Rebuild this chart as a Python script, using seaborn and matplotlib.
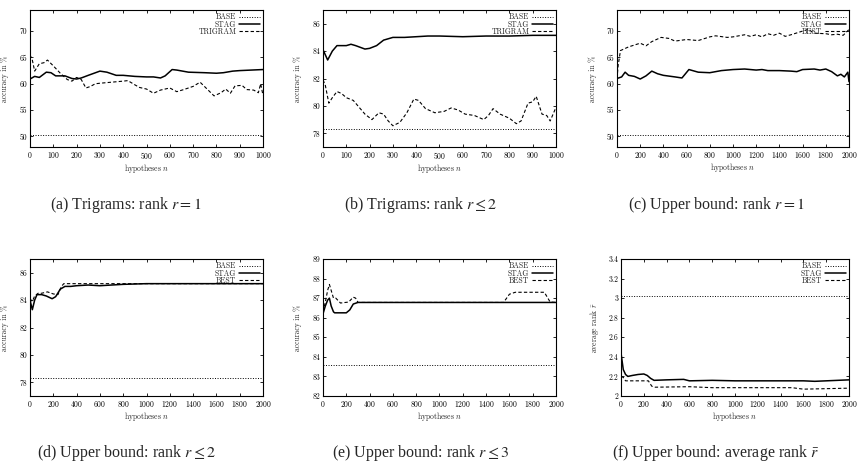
import matplotlib
matplotlib.use("Agg")
import matplotlib.pyplot as plt
from matplotlib.ticker import MultipleLocator, FuncFormatter
import seaborn as sns

# ---- data ----
# (a) trigrams, rank r = 1
a_stag_n = [0, 20, 40, 70, 90, 110, 150, 180, 200, 220, 250, 300, 330, 370, 400, 450, 500, 530, 560, 580,
            610, 630, 680, 750, 800, 830, 870, 900, 950, 1000]
a_stag = [60.9, 61.4, 61.2, 62.2, 62.1, 61.5, 61.5, 61.0, 60.9, 61.1, 61.6, 62.4, 62.2, 61.6, 61.6, 61.4, 61.3,
          61.3, 61.1, 61.5, 62.7, 62.6, 62.2, 62.1, 62.0, 62.1, 62.4, 62.5, 62.6, 62.7]
a_tri_n = [0, 10, 20, 40, 60, 75, 100, 130, 160, 180, 200, 220, 240, 260, 280, 300, 350, 400, 420, 450,
           470, 500, 530, 560, 600, 630, 660, 700, 730, 760, 790, 820, 840, 860, 880, 910, 930, 960, 980, 990, 1000]
a_tri = [65.5, 64.5, 62.4, 63.8, 64.0, 64.5, 63.4, 62.0, 60.8, 60.5, 61.2, 60.8, 59.2, 59.5, 60.0, 60.1, 60.3,
         60.5, 60.6, 59.8, 59.3, 59.0, 58.2, 58.8, 59.2, 58.5, 58.9, 59.5, 60.3, 59.0, 57.7, 58.3, 59.0, 58.2,
         59.6, 59.7, 58.9, 58.8, 58.3, 60.0, 57.8]
a_base = 50.2

# (b) trigrams, rank r <= 2
b_stag_n = [0, 20, 40, 60, 80, 100, 120, 140, 180, 200, 230, 260, 280, 300, 350, 400, 450, 500, 600, 700,
            800, 900, 1000]
b_stag = [84.1, 83.35, 84.0, 84.4, 84.4, 84.4, 84.5, 84.4, 84.15, 84.2, 84.4, 84.8, 84.9, 85.0, 85.0, 85.05,
          85.1, 85.1, 85.05, 85.1, 85.1, 85.15, 85.15]
b_tri_n = [0, 10, 25, 40, 60, 80, 100, 130, 150, 180, 210, 240, 260, 280, 300, 330, 360, 390, 410, 440,
           480, 520, 550, 580, 610, 650, 690, 710, 730, 760, 800, 830, 850, 880, 900, 915, 940, 960, 975, 1000]
b_tri = [81.9, 81.5, 80.2, 80.6, 81.05, 80.9, 80.6, 80.4, 80.0, 79.4, 79.0, 79.5, 79.4, 78.9, 78.55, 78.8,
         79.5, 80.5, 80.4, 79.8, 79.5, 79.6, 79.85, 79.7, 79.4, 79.3, 79.0, 79.3, 79.8, 79.4, 79.1, 78.7, 78.9,
         80.2, 80.3, 80.7, 79.4, 79.3, 78.9, 79.9]
b_base = 78.3

# (c) upper bound, rank r = 1
c_stag_n = [0, 40, 70, 100, 150, 200, 250, 300, 350, 400, 500, 560, 620, 700, 800, 900, 1000, 1100, 1200,
            1250, 1300, 1400, 1500, 1550, 1600, 1700, 1750, 1800, 1850, 1900, 1930, 1960, 1990, 2000]
c_stag = [61.0, 61.3, 62.2, 61.6, 61.4, 60.9, 61.5, 62.4, 61.9, 61.6, 61.3, 61.1, 62.7, 62.2, 62.1, 62.5,
          62.7, 62.8, 62.6, 62.7, 62.5, 62.5, 62.4, 62.3, 62.7, 62.8, 62.6, 62.8, 62.3, 61.5, 61.8, 61.3,
          62.2, 60.4]
c_best_n = [0, 10, 30, 100, 200, 250, 300, 380, 450, 500, 600, 700, 800, 850, 950, 1000, 1100, 1150, 1200,
            1250, 1300, 1350, 1400, 1450, 1500, 1600, 1650, 1700, 1800, 1850, 1900, 1950, 2000]
c_best = [61.0, 63.5, 66.3, 67.0, 67.7, 67.2, 68.0, 68.8, 68.6, 68.1, 68.4, 68.2, 68.9, 69.1, 68.8, 68.9,
          69.3, 69.0, 69.3, 68.9, 69.5, 69.2, 69.6, 69.0, 69.3, 70.0, 70.3, 69.6, 69.5, 69.3, 69.4, 69.2, 70.3]
c_base = 50.2

# (d) upper bound, rank r <= 2
d_stag_n = [0, 20, 40, 60, 100, 140, 190, 220, 260, 300, 350, 400, 500, 600, 700, 800, 1000, 2000]
d_stag = [84.0, 83.3, 84.0, 84.4, 84.4, 84.3, 84.1, 84.25, 84.8, 85.0, 85.0, 85.05, 85.1, 85.05, 85.1,
          85.15, 85.2, 85.2]
d_best_n = [0, 20, 40, 70, 100, 150, 200, 240, 270, 290, 400, 2000]
d_best = [84.1, 83.9, 84.3, 84.5, 84.5, 84.6, 84.45, 84.4, 85.0, 85.2, 85.2, 85.2]
d_base = 78.3

# (e) upper bound, rank r <= 3
e_stag_n = [0, 20, 40, 55, 70, 90, 100, 200, 230, 260, 300, 2000]
e_stag = [86.2, 86.6, 86.9, 87.0, 86.6, 86.3, 86.25, 86.25, 86.4, 86.7, 86.78, 86.78]
e_best_n = [0, 20, 40, 55, 70, 90, 110, 150, 220, 260, 280, 300, 1550, 1600, 1650, 1900, 1950, 2000]
e_best = [86.3, 86.8, 87.4, 87.7, 87.4, 87.0, 87.0, 86.75, 86.8, 87.05, 87.0, 86.78, 86.78, 87.2, 87.3,
          87.3, 86.8, 86.78]
e_base = 83.6

# (f) upper bound, average rank
f_stag_n = [0, 20, 40, 60, 100, 150, 200, 230, 260, 290, 400, 550, 600, 800, 1000, 1600, 1700, 1800, 1900, 2000]
f_stag = [2.44, 2.27, 2.22, 2.20, 2.21, 2.22, 2.225, 2.21, 2.18, 2.16, 2.165, 2.17, 2.155, 2.16, 2.155,
          2.155, 2.15, 2.155, 2.16, 2.165]
f_best_n = [0, 20, 40, 240, 270, 300, 600, 800, 1500, 1600, 1800, 2000]
f_best = [2.2, 2.19, 2.155, 2.155, 2.1, 2.09, 2.095, 2.085, 2.085, 2.07, 2.075, 2.08]
f_base = 3.02

captions = [r"(a) Trigrams: rank $r = 1$", r"(b) Trigrams: rank $r \leq 2$", r"(c) Upper bound: rank $r = 1$",
            r"(d) Upper bound: rank $r \leq 2$", r"(e) Upper bound: rank $r \leq 3$",
            r"(f) Upper bound: average rank $\bar{r}$"]

sns.set_theme(style="ticks")
plt.rcParams["font.family"] = ["cmr10", "DejaVu Serif"]
plt.rcParams["mathtext.fontset"] = "cm"
plt.rcParams["axes.formatter.use_mathtext"] = True

W, H = 862, 474
fig = plt.figure(figsize=(W / 100, H / 100), dpi=100)


def rect(l, t, r, b):
    return [l / W, 1 - b / H, (r - l) / W, (b - t) / H]


panels = [
    (rect(30, 10, 263, 147), a_stag_n, a_stag, a_tri_n, a_tri, "TRIGRAM", a_base, 1000, 100, (48, 74), 5),
    (rect(323, 10, 556, 147), b_stag_n, b_stag, b_tri_n, b_tri, "TRIGRAM", b_base, 1000, 100, (77, 87), 2),
    (rect(617, 10, 849, 147), c_stag_n, c_stag, c_best_n, c_best, "BEST", c_base, 2000, 200, (48, 74), 5),
    (rect(30, 259, 263, 396), d_stag_n, d_stag, d_best_n, d_best, "BEST", d_base, 2000, 200, (77, 87), 2),
    (rect(323, 259, 556, 396), e_stag_n, e_stag, e_best_n, e_best, "BEST", e_base, 2000, 200, (82, 89), 1),
    (rect(621, 259, 849, 396), f_stag_n, f_stag, f_best_n, f_best, "BEST", f_base, 2000, 200, (2, 3.4), 0.2),
]

small = 5.5
for i, (r, sn, sv, on, ov, oname, base, xmax, xstep, ylim, ystep) in enumerate(panels):
    ax = fig.add_axes(r)
    sns.lineplot(x=[0, xmax], y=[base, base], ax=ax, color="black", lw=0.7,
                 linestyle=(0, (1, 1.6)), label="BASE")
    sns.lineplot(x=sn, y=sv, ax=ax, color="black", lw=1.1, label="STAG")
    sns.lineplot(x=on, y=ov, ax=ax, color="black", lw=0.8, linestyle=(0, (3, 2)), label=oname)
    ax.set_xlim(0, xmax)
    ax.set_ylim(*ylim)
    ax.xaxis.set_major_locator(MultipleLocator(xstep))
    ax.yaxis.set_major_locator(MultipleLocator(ystep))
    ax.yaxis.set_major_formatter(FuncFormatter(lambda v, p: "%g" % round(v, 2)))
    ax.tick_params(direction="in", top=True, right=True, length=2.5, width=0.6,
                   labelsize=small, pad=2, colors="black")
    for s in ax.spines.values():
        s.set_linewidth(0.8)
        s.set_color("black")
    ax.set_xlabel(r"hypotheses $n$", fontsize=small, labelpad=1)
    ax.set_ylabel(r"average rank $\bar{r}$" if i == 5 else "accuracy in %", fontsize=small)
    ax.yaxis.set_label_coords(-0.088, 0.5)
    ax.legend(loc="upper right", frameon=False, markerfirst=False, fontsize=small,
              handlelength=2.7, labelspacing=-0.15, borderaxespad=0.3, handletextpad=0.4,
              borderpad=0.1)
    fig.text([126, 421, 716][i % 3] / W, 1 - [205, 453][i // 3] / H, captions[i],
             ha="center", va="center", fontsize=11.5, family="Liberation Serif",
             math_fontfamily="stix")

fig.savefig("out.png", dpi=100)
